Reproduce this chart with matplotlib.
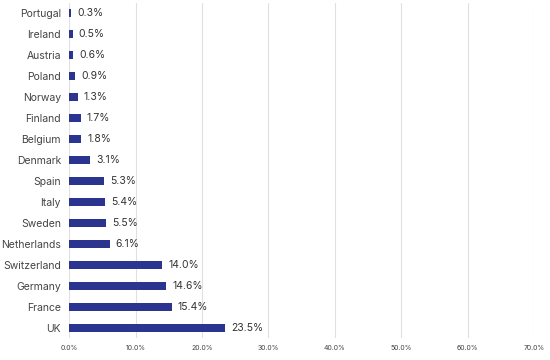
import matplotlib
matplotlib.use("Agg")
import matplotlib.pyplot as plt
from matplotlib.ticker import FuncFormatter

countries = ["UK", "France", "Germany", "Switzerland", "Netherlands", "Sweden", "Italy",
             "Spain", "Denmark", "Belgium", "Finland", "Norway", "Poland", "Austria",
             "Ireland", "Portugal"]
shares = [23.5, 15.4, 14.6, 14.0, 6.1, 5.5, 5.4, 5.3, 3.1, 1.8, 1.7, 1.3, 0.9, 0.6, 0.5, 0.3]
xticks = [0, 10, 20, 30, 40, 50, 60, 70]

plt.rcParams['font.family'] = ['Inter', 'DejaVu Sans']

fig = plt.figure(figsize=(5.5, 3.6), dpi=100)
ax = fig.add_axes([0.126, 0.06, 0.845, 0.933])

ax.barh(range(len(countries)), shares, height=0.4, color="#2b3590", zorder=3)
for i, v in enumerate(shares):
    ax.text(v + 0.9, i, f"{v:.1f}%", va="center", ha="left", fontsize=7.5, color="#333333")

ax.set_xlim(0, 70)
ax.set_ylim(-0.5, len(countries) - 0.5)
ax.set_xticks(xticks)
ax.xaxis.set_major_formatter(FuncFormatter(lambda x, p: f"{x:.1f}%"))
ax.set_yticks(range(len(countries)))
ax.set_yticklabels(countries)
ax.tick_params(axis="x", labelsize=5, colors="#444444", length=0, pad=5)
ax.tick_params(axis="y", labelsize=7.5, colors="#444444", length=0, pad=6)
ax.grid(axis="x", color="#e0e0e0", linewidth=0.8, zorder=0)
for s in ["top", "right", "bottom", "left"]:
    ax.spines[s].set_visible(False)

plt.savefig("out.png", dpi=100)
plt.close()
